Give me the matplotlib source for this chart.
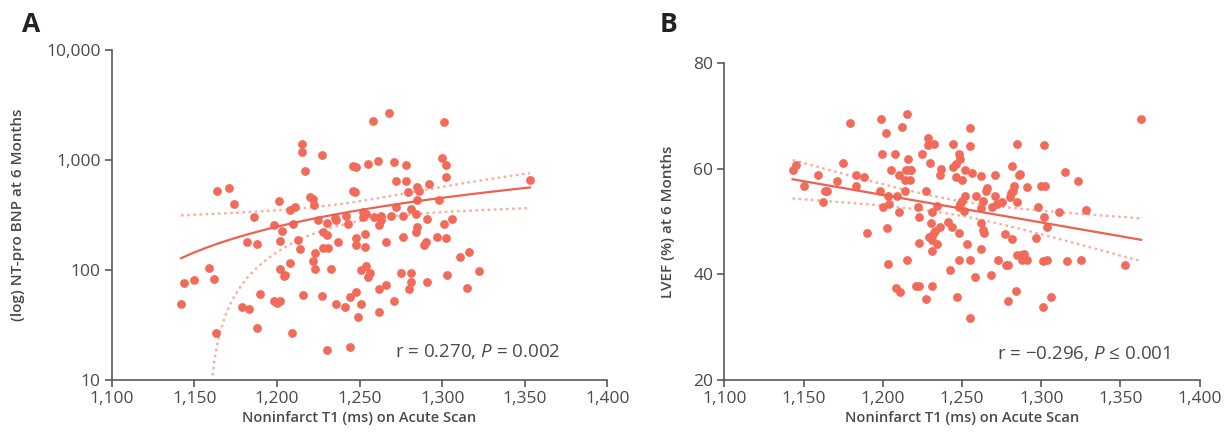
import matplotlib
matplotlib.use("Agg")
import matplotlib.pyplot as plt
import matplotlib.ticker as mticker
import numpy as np

plt.rcParams["font.family"] = ["Open Sans", "DejaVu Sans"]
plt.rcParams["mathtext.fontset"] = "custom"
plt.rcParams["mathtext.rm"] = "Open Sans"
plt.rcParams["mathtext.it"] = "Open Sans:italic"

# ---- panel A: noninfarct T1 vs NT-pro BNP
t1_a = [1142, 1144, 1150, 1159, 1162, 1163, 1164, 1171, 1174, 1179, 1183, 1182,
        1188, 1186, 1188, 1190, 1198, 1198, 1200, 1202, 1201, 1202, 1203, 1202,
        1204, 1205, 1208, 1208, 1211, 1210, 1209, 1213, 1214, 1215, 1215, 1217,
        1216, 1220, 1222, 1222.5, 1222, 1223, 1223, 1225, 1227, 1227, 1228, 1230,
        1228, 1230, 1230, 1231, 1233, 1235, 1236, 1236, 1237, 1241, 1242, 1243,
        1244, 1244, 1246, 1247, 1246, 1248, 1248, 1248, 1248, 1249, 1251, 1251,
        1252, 1254, 1252, 1253, 1253, 1254, 1255, 1256, 1255, 1258, 1259, 1261,
        1263, 1263, 1262, 1262, 1262, 1266, 1266, 1268, 1269, 1271, 1271, 1272,
        1272, 1275, 1276, 1276, 1278, 1278, 1279, 1280, 1281, 1281, 1281, 1284,
        1284, 1285, 1285, 1285, 1286, 1289, 1290, 1291, 1291, 1292, 1297, 1298,
        1300, 1301, 1301, 1302, 1302, 1302, 1303, 1306, 1311, 1315, 1316, 1322,
        1353]
bnp_a = [49.1, 76.2, 81.6, 105, 82.8, 26.7, 523, 560, 401, 45.8, 44.5, 178.6,
         171, 301, 29.9, 61.1, 255, 51.9, 49.8, 51.9, 421, 183.5, 224, 101.5,
         88.7, 90.1, 116.5, 351, 372, 262, 26.7, 187.5, 154.5, 1397, 1190, 791,
         59.6, 461, 440, 390, 122, 142, 101.7, 283, 1122, 58, 157.5, 267,
         221, 210, 18.9, 157.7, 103, 295, 285, 49.4, 180, 45.8, 313, 261,
         56.5, 19.8, 523, 509, 891, 863, 62.8, 197, 168, 37.6, 48.8, 101,
         339, 326, 301, 214, 161, 108, 86.3, 94.5, 914, 2263, 301, 979,
         310, 285, 257, 67.6, 41.5, 178, 73.8, 2660, 311, 52.2, 953, 642,
         374, 93.3, 311, 201, 645, 910, 514, 66.8, 93, 77.8, 362, 321,
         223, 431, 248, 565, 523, 169, 181, 288, 77.3, 601, 198, 433,
         1049, 2200, 260, 901, 696, 195, 89.5, 292, 132, 68.2, 147, 97.3,
         654]

# ---- panel B: noninfarct T1 vs LVEF
t1_b = [1143, 1145, 1150, 1159, 1162, 1163.5, 1164.5, 1171, 1175, 1179, 1183, 1188,
        1183, 1190, 1199, 1202, 1215, 1212, 1199.5, 1207.5, 1205, 1210, 1216, 1214.5,
        1217, 1218, 1214, 1217, 1198, 1203, 1209, 1200, 1204, 1214, 1210.5, 1202.5,
        1222, 1223, 1227, 1225, 1228.5, 1228.5, 1232, 1230, 1237, 1236, 1244, 1248,
        1248.5, 1244, 1246, 1246, 1250, 1255, 1255, 1252, 1256, 1262, 1266, 1265,
        1259, 1263, 1252, 1250, 1249, 1248, 1251, 1234.5, 1231, 1230.5, 1241, 1243.5,
        1236, 1233, 1231.5, 1229, 1231, 1248, 1262, 1262, 1263, 1264, 1271, 1284.5,
        1281.5, 1286, 1286.5, 1291, 1283, 1282, 1281, 1280, 1285, 1298, 1271, 1275,
        1272, 1269, 1223, 1231, 1234.5, 1253, 1262, 1277, 1281.5, 1297, 1303.5, 1302,
        1311, 1328, 1315, 1323, 1300, 1302.5, 1302, 1363, 1273, 1278, 1279, 1285,
        1287, 1289, 1288, 1291, 1301, 1303.5, 1316, 1325, 1353, 1268, 1258, 1255,
        1248, 1242.5, 1215, 1203, 1208, 1211, 1221, 1223, 1231, 1227, 1247, 1255,
        1279, 1284, 1306, 1301]
lvef_b = [59.8, 60.7, 56.8, 58.8, 53.8, 55.8, 55.8, 57.7, 61.2, 68.7, 58.8, 58.5,
          56.7, 47.8, 69.4, 66.8, 70.4, 67.9, 62.8, 62.8, 59.8, 58.9, 61.9, 59.8,
          59.8, 59.8, 57.9, 57.9, 55.8, 54.8, 54.8, 52.8, 53.3, 55.8, 51.8, 48.8,
          52.7, 50.9, 55.8, 62.9, 65.9, 64.6, 64.8, 61.2, 59.9, 58.8, 64.8, 62.9,
          61.8, 60.4, 61.0, 58.4, 57.8, 67.7, 64.4, 59.8, 59.3, 58.7, 56.4, 55.8,
          54.8, 54.0, 54.8, 54.0, 53.4, 52.8, 52.1, 53.0, 51.8, 49.8, 49.9, 48.9,
          49.0, 48.2, 47.6, 47.0, 46.5, 47.8, 52.5, 49.8, 48.4, 47.8, 58.9, 64.8,
          60.5, 58.8, 59.0, 56.6, 56.8, 55.9, 55.5, 54.7, 53.8, 52.8, 54.8, 53.8,
          53.3, 52.8, 45.9, 44.4, 45.8, 45.8, 44.9, 47.7, 46.8, 46.9, 48.9, 50.9,
          51.8, 52.2, 59.5, 57.7, 56.8, 56.7, 64.5, 69.4, 42.7, 41.8, 41.8, 43.7,
          43.6, 43.8, 42.8, 42.8, 42.6, 42.7, 42.5, 42.7, 41.7, 39.9, 39.6, 42.8,
          42.8, 40.8, 42.8, 41.9, 37.5, 36.7, 37.9, 37.9, 37.9, 35.3, 35.8, 31.8,
          34.9, 36.9, 35.8, 33.8]

x_ticks = [1100, 1150, 1200, 1250, 1300, 1350, 1400]
y_ticks_a = [10, 100, 1000, 10000]
y_ticks_b = [20, 40, 60, 80]

DOT = "#F26A59"
FIT = "#F0604F"
CI = "#F8AE9C"
INK = "#4A4A4A"
SPINE = "#5A5A5A"


def regression_band(x, y, grid):
    """最小二乘直线 + 95% 均值置信带"""
    x = np.asarray(x, float)
    y = np.asarray(y, float)
    b, a = np.polyfit(x, y, 1)
    n = len(x)
    resid = y - (a + b * x)
    s = np.sqrt(np.sum(resid ** 2) / (n - 2))
    sxx = np.sum((x - x.mean()) ** 2)
    se = s * np.sqrt(1.0 / n + (grid - x.mean()) ** 2 / sxx)
    fit = a + b * grid
    return fit, fit - 1.978 * se, fit + 1.978 * se


def style_axes(ax):
    for side in ("top", "right"):
        ax.spines[side].set_visible(False)
    for side in ("left", "bottom"):
        ax.spines[side].set_color(SPINE)
        ax.spines[side].set_linewidth(1.2)
    ax.tick_params(axis="both", direction="out", length=5, width=1.2,
                   color=SPINE, labelcolor=INK, labelsize=12.5, pad=3)
    ax.set_xlim(1100, 1400)
    ax.set_xticks(x_ticks)
    ax.xaxis.set_major_formatter(mticker.FuncFormatter(lambda v, p: f"{int(v):,}"))
    ax.set_xlabel("Noninfarct T1 (ms) on Acute Scan", fontsize=10.5,
                  fontweight="semibold", color=INK, labelpad=3)


fig = plt.figure(figsize=(12.3, 4.43), dpi=100)
ax_a = fig.add_axes([0.0908, 0.1422, 0.4031, 0.7449])
ax_b = fig.add_axes([0.5890, 0.1422, 0.3863, 0.7149])

# panel A
grid_a = np.linspace(min(t1_a), max(t1_a), 300)
fit, lo, hi = regression_band(t1_a, bnp_a, grid_a)
lo = np.where(lo > 10.5, lo, np.nan)
ax_a.set_yscale("log")
ax_a.scatter(t1_a, bnp_a, s=40, color=DOT, linewidths=0, zorder=3, clip_on=False)
ax_a.plot(grid_a, fit, color=FIT, lw=1.6, zorder=4)
ax_a.plot(grid_a, hi, color=CI, lw=1.7, ls=(0, (1.1, 1.5)), zorder=2)
ax_a.plot(grid_a, lo, color=CI, lw=1.7, ls=(0, (1.1, 1.5)), zorder=2)
ax_a.set_ylim(10, 10000)
ax_a.set_yticks(y_ticks_a)
ax_a.yaxis.set_minor_locator(mticker.NullLocator())
ax_a.yaxis.set_major_formatter(mticker.FuncFormatter(lambda v, p: f"{int(v):,}"))
style_axes(ax_a)
ax_a.set_ylabel("(log) NT-pro BNP at 6 Months", fontsize=11,
                fontweight="semibold", color=INK)
ax_a.yaxis.set_label_coords(-0.175, 0.5)
ax_a.text(0.906, 0.085, r"r = 0.270, $\it{P}$ = 0.002", transform=ax_a.transAxes,
          ha="right", va="center", fontsize=13.5, color=INK)

# panel B
grid_b = np.linspace(min(t1_b), max(t1_b), 300)
fit, lo, hi = regression_band(t1_b, lvef_b, grid_b)
ax_b.scatter(t1_b, lvef_b, s=40, color=DOT, linewidths=0, zorder=3, clip_on=False)
ax_b.plot(grid_b, fit, color=FIT, lw=1.6, zorder=4)
ax_b.plot(grid_b, hi, color=CI, lw=1.7, ls=(0, (1.1, 1.5)), zorder=2)
ax_b.plot(grid_b, lo, color=CI, lw=1.7, ls=(0, (1.1, 1.5)), zorder=2)
ax_b.set_ylim(20, 80)
ax_b.set_yticks(y_ticks_b)
style_axes(ax_b)
ax_b.set_ylabel("LVEF (%) at 6 Months", fontsize=11,
                fontweight="semibold", color=INK)
ax_b.yaxis.set_label_coords(-0.104, 0.5)
ax_b.text(0.938, 0.085, "r = \u22120.296, $\\it{P}$ \u2264 0.001", transform=ax_b.transAxes,
          ha="right", va="center", fontsize=13.5, color=INK)

fig.text(0.018, 0.945, "A", fontsize=19, fontweight="bold", color="#222222",
         ha="left", va="center")
fig.text(0.536, 0.945, "B", fontsize=19, fontweight="bold", color="#222222",
         ha="left", va="center")

fig.savefig("out.png", dpi=100)
